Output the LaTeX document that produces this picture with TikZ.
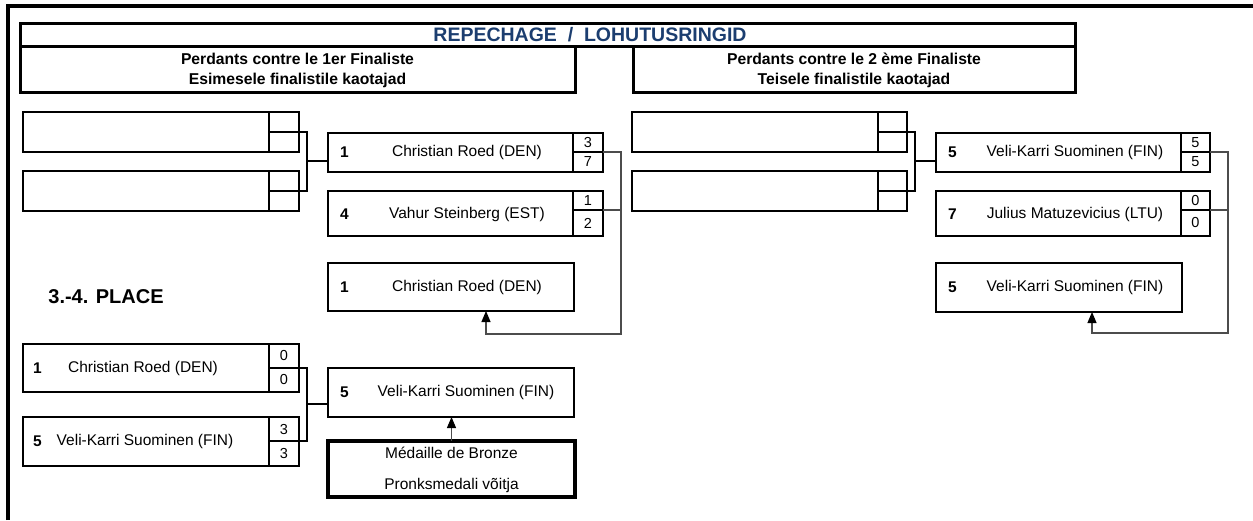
\documentclass[tikz,border=0pt]{standalone}
\usepackage{fontspec}
\setmainfont{Liberation Sans}
\usetikzlibrary{arrows.meta}
\definecolor{navy}{RGB}{28,62,112}
\begin{document}
\begin{tikzpicture}[x=1pt,y=-1pt,
 mbox/.style={draw, line width=1.8pt, inner sep=0pt, outer sep=0pt, anchor=north west},
 scell/.style={draw, line width=1.8pt, inner sep=0pt, outer sep=0pt, anchor=north west, font=\fontsize{14.5}{15}\selectfont},
 seedtxt/.style={anchor=west, inner sep=0pt, font=\bfseries\fontsize{15.5}{16}\selectfont},
 nametxt/.style={inner sep=0pt, font=\fontsize{15.5}{16}\selectfont},
 hdr/.style={draw, line width=3pt, inner sep=0pt, outer sep=0pt, anchor=north west},
 hdrtxt/.style={inner sep=0pt, font=\bfseries\fontsize{15.7}{16}\selectfont},
 brk/.style={line width=1.4pt},
 adv/.style={line width=1.1pt, draw=black!70},
 tip/.style={-{Triangle[length=11pt,width=9pt,color=black]}}]
\useasboundingbox (0,0) rectangle (1253,520);
\fill[white] (0,0) rectangle (1253,520);
% frame
\draw[line width=4pt] (8,520) -- (8,6) -- (1253,6);
% header
\node[hdr, minimum width=1055pt, minimum height=23pt] (hrow) at (20,23) {};
\node[hdr, minimum width=555pt, minimum height=46pt] (hleft) at (20,46) {};
\node[hdr, minimum width=442pt, minimum height=46pt] (hright) at (633,46) {};
\node[inner sep=0pt, text=navy, font=\bfseries\fontsize{19.5}{20}\selectfont] (title) at (590,35) {REPECHAGE \ / \ LOHUTUSRINGID};
\node[hdrtxt] (hl1) at (297.5,59) {Perdants contre le 1er Finaliste};
\node[hdrtxt] (hl2) at (297.5,80) {Esimesele finalistile kaotajad};
\node[hdrtxt] (hr1) at (854,59) {Perdants contre le 2 ème Finaliste};
\node[hdrtxt] (hr2) at (854,80) {Teisele finalistile kaotajad};
% A boxes
\node[mbox, minimum width=276pt, minimum height=40pt] (a1) at (23,112) {};
\node[scell, minimum width=30pt, minimum height=20pt] (a1s1) at (269,112) {};
\node[scell, minimum width=30pt, minimum height=20pt] (a1s2) at (269,132) {};
\node[mbox, minimum width=276pt, minimum height=40pt] (a2) at (23,171) {};
\node[scell, minimum width=30pt, minimum height=20pt] (a2s1) at (269,171) {};
\node[scell, minimum width=30pt, minimum height=20pt] (a2s2) at (269,191) {};
% B boxes
\node[mbox, minimum width=275pt, minimum height=39pt] (b1) at (328,133) {};
\node[scell, minimum width=30pt, minimum height=19pt] (b1s1) at (573,133) {3};
\node[scell, minimum width=30pt, minimum height=20pt] (b1s2) at (573,152) {7};
\node[seedtxt] (b1seed) at (340,152.5) {1};
\node[nametxt] (b1name) at (467,152.5) {Christian Roed (DEN)};
\node[mbox, minimum width=275pt, minimum height=45pt] (b2) at (328,191) {};
\node[scell, minimum width=30pt, minimum height=19pt] (b2s1) at (573,191) {1};
\node[scell, minimum width=30pt, minimum height=26pt] (b2s2) at (573,210) {2};
\node[seedtxt] (b2seed) at (340,214) {4};
\node[nametxt] (b2name) at (467,214) {Vahur Steinberg (EST)};
\node[mbox, minimum width=246pt, minimum height=48pt] (b3) at (328,263) {};
\node[seedtxt] (b3seed) at (340,287) {1};
\node[nametxt] (b3name) at (467,287) {Christian Roed (DEN)};
% C boxes
\node[mbox, minimum width=275pt, minimum height=40pt] (c1) at (632,112) {};
\node[scell, minimum width=29pt, minimum height=20pt] (c1s1) at (878,112) {};
\node[scell, minimum width=29pt, minimum height=20pt] (c1s2) at (878,132) {};
\node[mbox, minimum width=275pt, minimum height=40pt] (c2) at (632,171) {};
\node[scell, minimum width=29pt, minimum height=20pt] (c2s1) at (878,171) {};
\node[scell, minimum width=29pt, minimum height=20pt] (c2s2) at (878,191) {};
% D boxes
\node[mbox, minimum width=274pt, minimum height=39pt] (d1) at (936,133) {};
\node[scell, minimum width=29pt, minimum height=19pt] (d1s1) at (1181,133) {5};
\node[scell, minimum width=29pt, minimum height=20pt] (d1s2) at (1181,152) {5};
\node[seedtxt] (d1seed) at (948,152.5) {5};
\node[nametxt] (d1name) at (1075,152.5) {Veli-Karri Suominen (FIN)};
\node[mbox, minimum width=274pt, minimum height=45pt] (d2) at (936,191) {};
\node[scell, minimum width=29pt, minimum height=19pt] (d2s1) at (1181,191) {0};
\node[scell, minimum width=29pt, minimum height=26pt] (d2s2) at (1181,210) {0};
\node[seedtxt] (d2seed) at (948,214) {7};
\node[nametxt] (d2name) at (1075,214) {Julius Matuzevicius (LTU)};
\node[mbox, minimum width=246pt, minimum height=49pt] (d3) at (936,263) {};
\node[seedtxt] (d3seed) at (948,287.5) {5};
\node[nametxt] (d3name) at (1075,287.5) {Veli-Karri Suominen (FIN)};
% place
\node[inner sep=0pt, font=\bfseries\fontsize{20}{22}\selectfont] (place) at (106,297) {3.-4. PLACE};
% E boxes
\node[mbox, minimum width=276pt, minimum height=48pt] (e1) at (23,344) {};
\node[scell, minimum width=30pt, minimum height=24pt] (e1s1) at (269,344) {0};
\node[scell, minimum width=30pt, minimum height=24pt] (e1s2) at (269,368) {0};
\node[seedtxt] (e1seed) at (33,368) {1};
\node[nametxt] (e1name) at (143,368) {Christian Roed (DEN)};
\node[mbox, minimum width=276pt, minimum height=49pt] (e2) at (23,417) {};
\node[scell, minimum width=30pt, minimum height=24pt] (e2s1) at (269,417) {3};
\node[scell, minimum width=30pt, minimum height=25pt] (e2s2) at (269,441) {3};
\node[seedtxt] (e2seed) at (33,441.5) {5};
\node[nametxt] (e2name) at (145,441.5) {Veli-Karri Suominen (FIN)};
% F box
\node[mbox, minimum width=246pt, minimum height=49pt] (f1) at (328,368) {};
\node[seedtxt] (f1seed) at (340,392.5) {5};
\node[nametxt] (f1name) at (466,392.5) {Veli-Karri Suominen (FIN)};
\node[draw, line width=3.5pt, inner sep=0pt, outer sep=0pt, anchor=north west, minimum width=247pt, minimum height=56pt] (bronze) at (328,441) {};
\node[nametxt] (br1) at (451.5,453) {Médaille de Bronze};
\node[nametxt] (br2) at (451.5,485) {Pronksmedali võitja};
% connectors
\coordinate (ja) at (307,161);
\draw[brk] (a1s1.south east) -| (ja);
\draw[brk] (a2s1.south east) -| (ja);
\draw[brk] (ja) -- (ja -| b1.west);
\coordinate (jb) at (621,334);
\coordinate (xb) at (486,334);
\draw[adv] (b2s1.south east) -- (b2s1.south east -| jb);
\draw[adv, tip] (b1s1.south east) -| (jb) -- (xb) -- (xb |- b3.south);
\coordinate (jc) at (915,161);
\draw[brk] (c1s1.south east) -| (jc);
\draw[brk] (c2s1.south east) -| (jc);
\draw[brk] (jc) -- (jc -| d1.west);
\coordinate (jd) at (1228,333);
\coordinate (xd) at (1092,333);
\draw[adv] (d2s1.south east) -- (d2s1.south east -| jd);
\draw[adv, tip] (d1s1.south east) -| (jd) -- (xd) -- (xd |- d3.south);
\coordinate (je) at (307,404);
\draw[brk] (e1s1.south east) -| (je);
\draw[brk] (e2s1.south east) -| (je);
\draw[brk] (je) -- (je -| f1.west);
\draw[adv, tip] (bronze.north) -- (bronze.north |- f1.south);
\end{tikzpicture}
\end{document}
